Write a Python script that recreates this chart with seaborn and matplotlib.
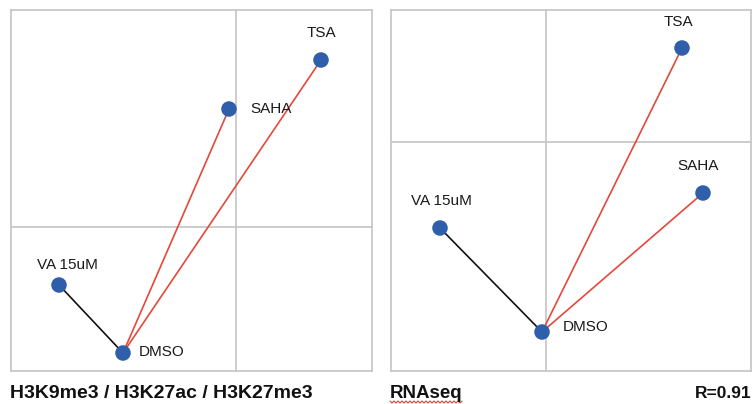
import numpy as np
import matplotlib
matplotlib.use("Agg")
import matplotlib.pyplot as plt
import seaborn as sns
import pandas as pd

sns.set_theme(style="white")
plt.rcParams["font.family"] = ["Liberation Sans", "DejaVu Sans"]

# Sample positions in each projection (DMSO is the reference sample)
samples = ["DMSO", "VA 15uM", "SAHA", "TSA"]
chip_x = [-1.13, -1.77, -0.07, 0.85]
chip_y = [-1.26, -0.58, 1.18, 1.67]
rna_x = [-0.04, -1.06, 1.57, 1.36]
rna_y = [-1.90, -0.86, -0.51, 0.94]

chip_title = "H3K9me3 / H3K27ac / H3K27me3"
rna_title = "RNAseq"
rna_corr = "R=0.91"

point_color = "#2f5faa"
red = "#e5483b"
grid_color = "#c4c4c4"

W, H = 753, 404
fig = plt.figure(figsize=(W / 100, H / 100), dpi=100)

ax1 = fig.add_axes([11 / W, 33 / H, 361 / W, 361 / H])
ax2 = fig.add_axes([391 / W, 33 / H, 360 / W, 361 / H])


def draw_panel(ax, xs, ys, xlim, ylim, label_pos):
    df = pd.DataFrame({"sample": samples, "x": xs, "y": ys})
    ax.axvline(0, color=grid_color, lw=1.2, zorder=0)
    ax.axhline(0, color=grid_color, lw=1.2, zorder=0)
    base_x, base_y = xs[0], ys[0]
    for name, x, y in zip(samples[1:], xs[1:], ys[1:]):
        c = "#111111" if name == "VA 15uM" else red
        ax.plot([base_x, x], [base_y, y], color=c, lw=1.2, zorder=2)
    sns.scatterplot(data=df, x="x", y="y", ax=ax, s=125, color=point_color,
                    edgecolor="none", zorder=3, legend=False)
    for name, (lx, ly, ha) in label_pos.items():
        ax.text(lx, ly, name, fontsize=11, ha=ha, va="center", color="#1a1a1a")
    ax.set_xlim(*xlim)
    ax.set_ylim(*ylim)
    ax.set_xticks([])
    ax.set_yticks([])
    ax.set_xlabel("")
    ax.set_ylabel("")
    for sp in ax.spines.values():
        sp.set_color(grid_color)
        sp.set_linewidth(1.2)


draw_panel(ax1, chip_x, chip_y, (-2.25, 1.36), (-1.44, 2.17), {
    "DMSO": (-0.97, -1.25, "left"),
    "VA 15uM": (-1.69, -0.38, "center"),
    "SAHA": (0.14, 1.18, "left"),
    "TSA": (0.85, 1.94, "center"),
})

draw_panel(ax2, rna_x, rna_y, (-1.55, 2.05), (-2.29, 1.32), {
    "DMSO": (0.17, -1.85, "left"),
    "VA 15uM": (-1.05, -0.59, "center"),
    "SAHA": (1.52, -0.24, "center"),
    "TSA": (1.32, 1.20, "center"),
})

fig.text(10 / W, 1 - 393 / H, chip_title, fontsize=14, fontweight="bold",
         ha="left", va="center", color="#111111")
fig.text(390 / W, 1 - 393 / H, rna_title, fontsize=13.5, fontweight="bold",
         ha="left", va="center", color="#111111")
fig.text(751 / W, 1 - 393 / H, rna_corr, fontsize=12.5, fontweight="bold",
         ha="right", va="center", color="#111111")

# spell-check squiggle under the RNAseq heading
wx = np.linspace(390, 462, 37)
wy = 402 + np.where(np.arange(37) % 2 == 0, -1.0, 1.0)
fig.add_artist(plt.Line2D(wx / W, 1 - wy / H, color="#e04040", lw=0.8,
                          transform=fig.transFigure))

fig.savefig("out.png", dpi=100)
